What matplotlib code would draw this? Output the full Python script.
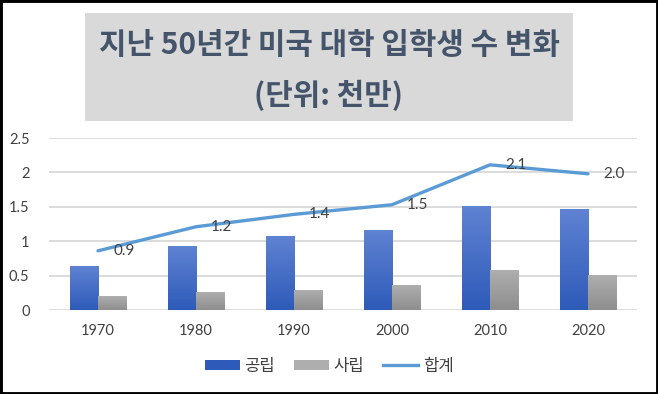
import matplotlib
matplotlib.use("Agg")
import matplotlib.pyplot as plt
import numpy as np
from matplotlib.patches import Rectangle, Patch
from matplotlib.lines import Line2D

plt.rcParams['font.family'] = ['Noto Sans CJK KR', 'DejaVu Sans']

# data (unit: 10 million students)
years = ['1970', '1980', '1990', '2000', '2010', '2020']
public = [0.63, 0.93, 1.07, 1.16, 1.51, 1.46]
private = [0.19, 0.25, 0.29, 0.35, 0.58, 0.50]
total = [0.86, 1.21, 1.39, 1.53, 2.11, 1.98]
yticks = [0, 0.5, 1, 1.5, 2, 2.5]
yticklabels = ['0', '0.5', '1', '1.5', '2', '2.5']

title_1 = '지난 50년간 미국 대학 입학생 수 변화'
title_2 = '(단위: 천만)'
series_names = ['공립', '사립', '합계']

BLUE_TOP, BLUE_BOT = '#5F82D2', '#2E5BB9'
GRAY_TOP, GRAY_BOT = '#AEAEAE', '#8E8E8E'
LINE_C = '#5B9BD5'
TEXT_C = '#404040'

fig = plt.figure(figsize=(6.58, 3.94), dpi=100)

# title box
fig.patches.append(Rectangle((85 / 658, 1 - 121 / 394), 488 / 658, 108 / 394,
                             transform=fig.transFigure, facecolor='#D9D9D9',
                             edgecolor='none', zorder=0))
fig.text(0.5, 1 - 45 / 394, title_1, ha='center', va='center', fontsize=21.5,
         fontweight='bold', color='#44546A')
fig.text(0.5, 1 - 95 / 394, title_2, ha='center', va='center', fontsize=21.5,
         fontweight='bold', color='#44546A')

ax = fig.add_axes([49 / 658, 1 - 310 / 394, 588 / 658, 172 / 394])
x = np.arange(len(years))
w = 0.286


def gradient_bars(xs, vals, top, bot):
    bars = ax.bar(xs, vals, width=w, color='none', zorder=2)
    cmap = matplotlib.colors.LinearSegmentedColormap.from_list('g', [bot, top])
    grad = np.linspace(0, 1, 64).reshape(-1, 1)
    for b in bars:
        x0, y0 = b.get_x(), b.get_y()
        ax.imshow(grad, cmap=cmap, origin='lower', aspect='auto',
                  extent=(x0, x0 + b.get_width(), y0, y0 + b.get_height()),
                  zorder=2)
    return bars


gradient_bars(x - w / 2, public, BLUE_TOP, BLUE_BOT)
gradient_bars(x + w / 2, private, GRAY_TOP, GRAY_BOT)
ax.plot(x, total, color=LINE_C, lw=2.4, solid_capstyle='round', zorder=3)

for xi, v in zip(x, total):
    ax.annotate(f'{v:.1f}', (xi, v), xytext=(11, 0), textcoords='offset points',
                ha='left', va='center', fontsize=11, color=TEXT_C,
                family='Lato', zorder=4)

ax.set_xlim(-0.5, 5.5)
ax.set_ylim(0, 2.5)
ax.set_yticks(yticks)
ax.set_yticklabels(yticklabels)
ax.set_xticks(x)
ax.set_xticklabels(years)
ax.grid(axis='y', color='#D9D9D9', lw=1.3, zorder=0)
ax.set_axisbelow(True)
for s in ax.spines.values():
    s.set_visible(False)
ax.tick_params(length=0, labelsize=10.5, colors=TEXT_C)
ax.tick_params(axis='x', pad=10)
ax.tick_params(axis='y', pad=14)
for lab in ax.get_xticklabels() + ax.get_yticklabels():
    lab.set_family('Lato')

handles = [Patch(facecolor=BLUE_BOT, edgecolor='none'),
           Patch(facecolor=GRAY_TOP, edgecolor='none'),
           Line2D([0], [0], color=LINE_C, lw=2.4)]
fig.legend(handles, series_names, loc='center', bbox_to_anchor=(0.5, 1 - 366 / 394),
           ncol=3, frameon=False, fontsize=12, handlelength=2.1, handleheight=0.55,
           handletextpad=0.3, columnspacing=1.1, labelcolor=TEXT_C)

# outer black frame
fig.patches.append(Rectangle((0, 0), 1, 1, transform=fig.transFigure,
                             facecolor='none', edgecolor='black', lw=3.5,
                             zorder=10))

fig.savefig('out.png', dpi=100)
